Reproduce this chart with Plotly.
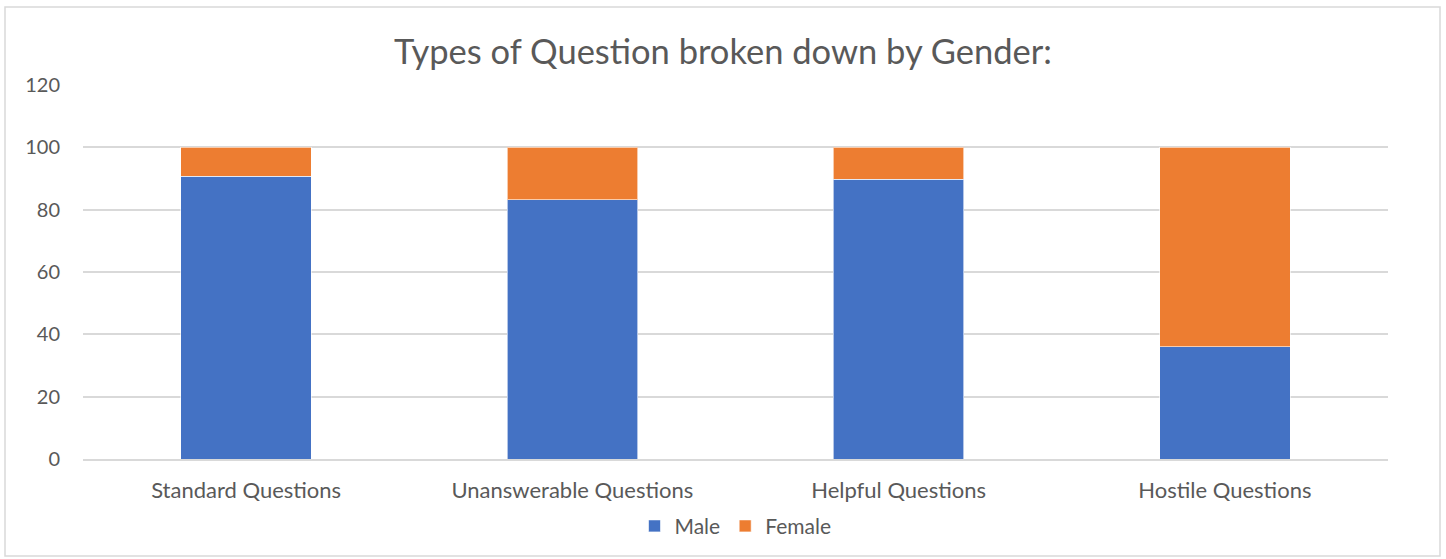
import plotly.graph_objects as go

categories = ["Standard Questions", "Unanswerable Questions", "Helpful Questions", "Hostile Questions"]
male = [90.7, 83.2, 89.8, 36.0]
female = [9.3, 16.8, 10.2, 64.0]
y_ticks = [0, 20, 40, 60, 80, 100, 120]

font_family = "Lato, 'Open Sans', sans-serif"
text_color = "#595959"

fig = go.Figure()
fig.add_trace(go.Bar(name="Male", x=categories, y=male, marker=dict(color="#4472C4", line=dict(color="rgba(255,255,255,0.6)", width=1))))
fig.add_trace(go.Bar(name="Female", x=categories, y=female, marker=dict(color="#ED7D31", line=dict(color="rgba(255,255,255,0.6)", width=1))))

fig.update_layout(
    barmode="stack",
    bargap=0.6,
    width=1446,
    height=559,
    paper_bgcolor="white",
    plot_bgcolor="white",
    margin=dict(l=83, r=58, t=85, b=100, autoexpand=False),
    font=dict(family=font_family, color=text_color, size=21),
    title=dict(text="Types of Question broken down by Gender:", x=0.5, xanchor="center",
               y=1 - 52 / 559, yanchor="middle", font=dict(size=34.5, color=text_color, family=font_family)),
    legend=dict(orientation="h", x=0.5, xanchor="center", y=-0.125, yanchor="top",
                font=dict(size=21, color=text_color), itemwidth=30, traceorder="normal"),
    showlegend=True,
    shapes=[dict(type="rect", xref="paper", yref="paper", x0=-78/1305, x1=1357/1305,
                 y0=-97/374, y1=1+78/374, line=dict(color="#D9D9D9", width=1.5), fillcolor="rgba(0,0,0,0)")],
)
fig.update_yaxes(range=[0, 120], tickvals=y_ticks, showgrid=True, gridcolor="#D9D9D9", gridwidth=1.5,
                 zeroline=False, showline=False, ticks="", tickfont=dict(size=20, color=text_color),
                 ticklabelstandoff=22, automargin=False)
fig.update_xaxes(showline=True, linecolor="#D9D9D9", linewidth=1.5, ticks="",
                 tickfont=dict(size=22, color=text_color), ticklabelstandoff=11, automargin=False)

fig.write_html("out.html")
